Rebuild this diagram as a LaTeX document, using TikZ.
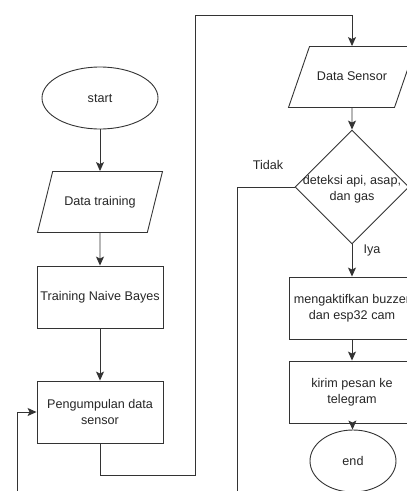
\documentclass[tikz,border=0pt]{standalone}
\usepackage{fontspec}
\setmainfont{Liberation Sans}
\usetikzlibrary{shapes.geometric,arrows.meta}

\begin{document}
\begin{tikzpicture}[x=1pt,y=-1pt,
        every node/.style={font=\fontsize{12.6}{16}\selectfont, text=black!85, align=center},
        line/.style={draw=black!80, line width=0.9pt},
        arrow/.style={line, -{Stealth[length=9pt,width=8pt,inset=2pt]}},
        terminal/.style={line, ellipse, inner sep=0pt},
        io/.style={line, trapezium, trapezium left angle=#1, trapezium right angle=180-#1,
            trapezium stretches body=true, text height=9pt, text depth=3pt,
            inner ysep=24.5pt, inner xsep=2pt},
        process/.style={line, rectangle, minimum width=126pt, minimum height=62pt, inner sep=0pt},
        decision/.style={line, diamond, minimum width=114pt, minimum height=114pt, inner sep=0pt}]
        \clip (0,0) rectangle (407,491);

        % kolom kiri
        \node[terminal, minimum width=116pt, minimum height=62pt] (start) at (100,98) {start};
        \node[io=76, minimum width=125pt] (datatraining) at (100,202) {Data training};
        \node[process] (training) at (100,297) {Training Naive Bayes};
        \node[process] (pengumpulan) at (100,412) {Pengumpulan data\\sensor};

        % kolom kanan
        \node[io=71, minimum width=127pt] (datasensor) at (352,77) {Data Sensor};
        \node[decision] (deteksi) at (352,187) {};
        \node (deteksitxt) at (352,189) {deteksi api, asap,\\dan gas};
        \node[process] (mengaktifkan) at (352,308) {mengaktifkan buzzer\\dan esp32 cam};
        \node[process] (kirim) at (352,392) {kirim pesan ke\\telegram};
        \node[terminal, minimum width=86pt, minimum height=62pt] (end) at (353,461) {end};

        \node (tidak) at (268,165) {Tidak};
        \node (iya) at (372,250) {Iya};

        \coordinate (loopa) at (195,475);
        \coordinate (loopb) at (195,15);
        \coordinate (tidakend) at (237,491);
        \coordinate (kembali) at (17,491);

        \draw[arrow] (start) -- (datatraining);
        \draw[arrow] (datatraining) -- (training);
        \draw[arrow] (training) -- (pengumpulan);
        \draw[arrow] (pengumpulan.south) |- (loopa) -- (loopb) -| (datasensor.north);
        \draw[arrow] (datasensor) -- (deteksi);
        \draw[arrow] (deteksi) -- (mengaktifkan);
        \draw[arrow] (mengaktifkan) -- (kirim);
        \draw[arrow] (kirim) -- (end);
        \draw[line] (deteksi.west) -| (tidakend);
        \draw[arrow] (kembali) |- (pengumpulan.west);
    \end{tikzpicture}
\end{document}
